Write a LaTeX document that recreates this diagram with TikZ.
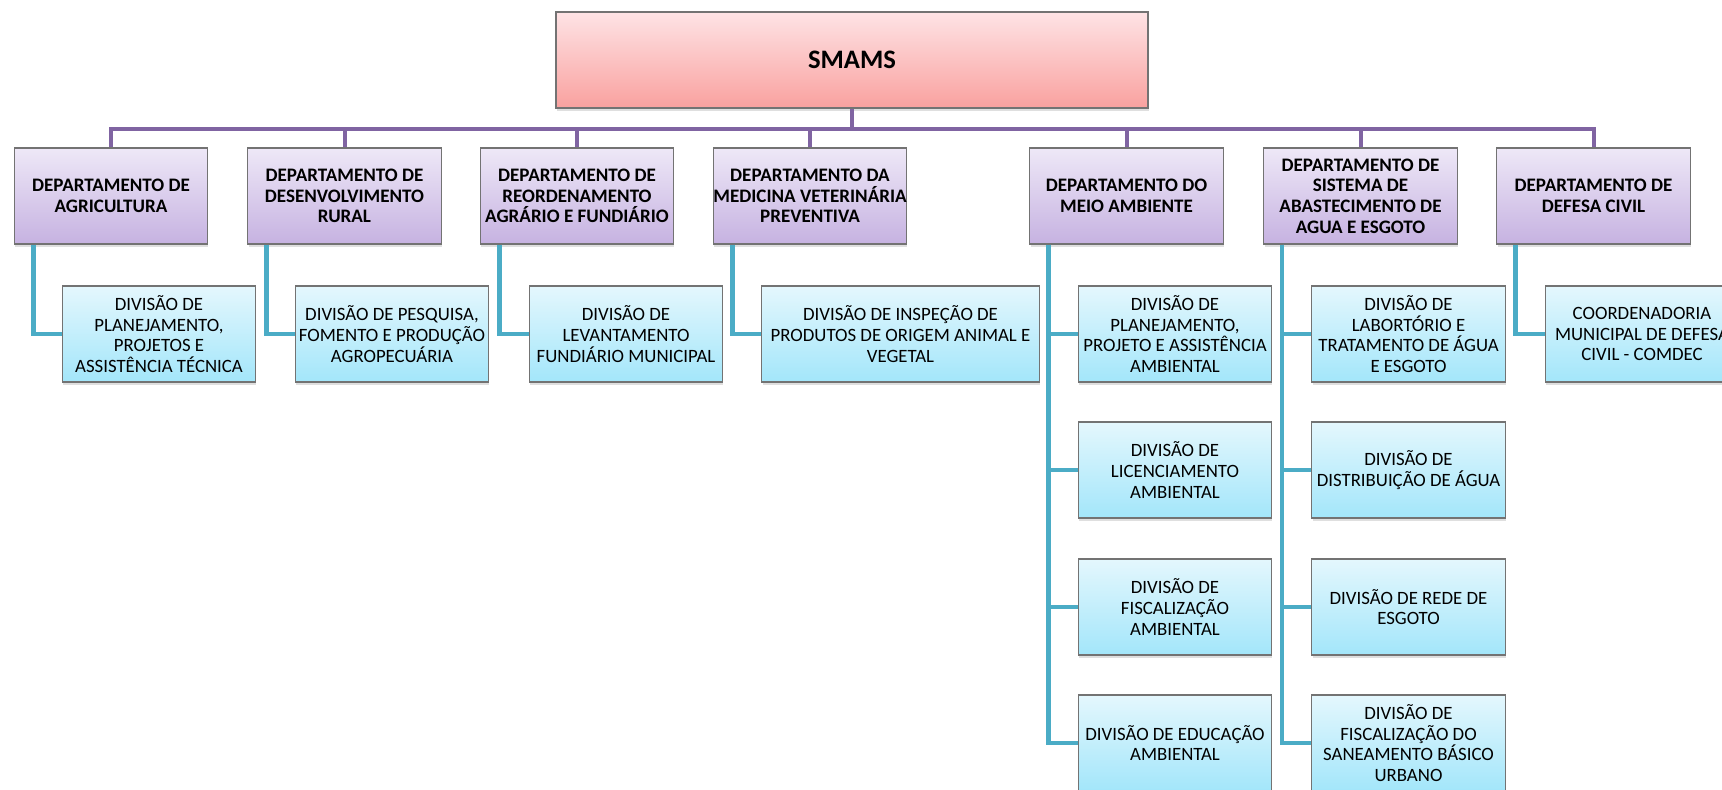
\documentclass[tikz,border=0pt]{standalone}
\usepackage{fontspec}
\setmainfont{Carlito}
\usetikzlibrary{shadows}

\definecolor{smamstop}{HTML}{FEE3E5}
\definecolor{smamsbot}{HTML}{F9A19F}
\definecolor{deptop}{HTML}{EEE8F7}
\definecolor{depbot}{HTML}{C6B2E1}
\definecolor{divtop}{HTML}{E4F7FD}
\definecolor{divbot}{HTML}{A3E6FA}
\definecolor{buscol}{HTML}{8064A2}
\definecolor{linkcol}{HTML}{4BACC6}

\begin{document}
\begin{tikzpicture}[x=0.75pt, y=-0.75pt]
    \tikzstyle{box}=[draw=black!55, line width=0.8pt, align=center, inner xsep=0pt, inner ysep=2pt,
        drop shadow={shadow xshift=0.6pt, shadow yshift=-2.4pt, opacity=0.25},
        font=\fontsize{14.1}{15.5}\selectfont]
    \tikzstyle{head}=[box, top color=smamstop, bottom color=smamsbot,
        minimum width=444pt, minimum height=72pt, font=\fontsize{20}{24}\selectfont\bfseries]
    \tikzstyle{dep}=[box, top color=deptop, bottom color=depbot,
        minimum width=145pt, minimum height=72pt, font=\fontsize{14.3}{15.5}\selectfont\bfseries]
    \tikzstyle{div}=[box, top color=divtop, bottom color=divbot,
        minimum width=145pt, minimum height=72pt]
    \tikzstyle{bus}=[draw=buscol, line width=3pt]
    \tikzstyle{link}=[draw=linkcol, line width=3.6pt]

    \clip (0,0) rectangle (1722,789);

    \node[head](smams) at (852, 60) {SMAMS};

    \node[dep](dep_1) at (111, 196) {DEPARTAMENTO DE\\AGRICULTURA};
    \node[dep](dep_2) at (344.5, 196) {DEPARTAMENTO DE\\DESENVOLVIMENTO\\RURAL};
    \node[dep](dep_3) at (577, 196) {DEPARTAMENTO DE\\REORDENAMENTO\\AGRÁRIO E FUNDIÁRIO};
    \node[dep](dep_4) at (810, 196) {DEPARTAMENTO DA\\MEDICINA VETERINÁRIA\\PREVENTIVA};
    \node[dep](dep_5) at (1126.5, 196) {DEPARTAMENTO DO\\MEIO AMBIENTE};
    \node[dep](dep_6) at (1360.5, 196) {DEPARTAMENTO DE\\SISTEMA DE\\ABASTECIMENTO DE\\AGUA E ESGOTO};
    \node[dep](dep_7) at (1593.5, 196) {DEPARTAMENTO DE\\DEFESA CIVIL};

    \node[div](div_1) at (159, 334) {DIVISÃO DE\\PLANEJAMENTO,\\PROJETOS E\\ASSISTÊNCIA TÉCNICA};
    \node[div](div_2) at (392, 334) {DIVISÃO DE PESQUISA,\\FOMENTO E PRODUÇÃO\\AGROPECUÁRIA};
    \node[div](div_3) at (626, 334) {DIVISÃO DE\\LEVANTAMENTO\\FUNDIÁRIO MUNICIPAL};
    \node[div, minimum width=208pt](div_4) at (900.5, 334) {DIVISÃO DE INSPEÇÃO DE\\PRODUTOS DE ORIGEM ANIMAL E\\VEGETAL};

    \node[div](div_5_1) at (1175, 334) {DIVISÃO DE\\PLANEJAMENTO,\\PROJETO E ASSISTÊNCIA\\AMBIENTAL};
    \node[div](div_5_2) at (1175, 470) {DIVISÃO DE\\LICENCIAMENTO\\AMBIENTAL};
    \node[div](div_5_3) at (1175, 607) {DIVISÃO DE\\FISCALIZAÇÃO\\AMBIENTAL};
    \node[div](div_5_4) at (1175, 743) {DIVISÃO DE EDUCAÇÃO\\AMBIENTAL};

    \node[div](div_6_1) at (1408.5, 334) {DIVISÃO DE\\LABORTÓRIO E\\TRATAMENTO DE ÁGUA\\E ESGOTO};
    \node[div](div_6_2) at (1408.5, 470) {DIVISÃO DE\\DISTRIBUIÇÃO DE ÁGUA};
    \node[div](div_6_3) at (1408.5, 607) {DIVISÃO DE REDE DE\\ESGOTO};
    \node[div](div_6_4) at (1408.5, 743) {DIVISÃO DE\\FISCALIZAÇÃO DO\\SANEAMENTO BÁSICO\\URBANO};

    \node[div](div_7) at (1642, 334) {COORDENADORIA\\MUNICIPAL DE DEFESA\\CIVIL - COMDEC};

    % barra superior
    \coordinate(bus) at (852, 129);
    \draw[bus] (smams.south) -- (smams.south |- bus);
    \draw[bus] (dep_1.north) -- (dep_1.north |- bus) -- (dep_7.north |- bus) -- (dep_7.north);
    \foreach \i in {2,...,6}
        \draw[bus] (dep_\i.north) -- (dep_\i.north |- bus);

    % ligacoes das divisoes
    \draw[link] ([xshift=14.6pt]dep_1.south west) |- (div_1.west);
    \draw[link] ([xshift=14.6pt]dep_2.south west) |- (div_2.west);
    \draw[link] ([xshift=14.6pt]dep_3.south west) |- (div_3.west);
    \draw[link] ([xshift=14.6pt]dep_4.south west) |- (div_4.west);
    \foreach \j in {1,...,4} {
        \draw[link] ([xshift=14.6pt]dep_5.south west) |- (div_5_\j.west);
        \draw[link] ([xshift=14pt]dep_6.south west) |- (div_6_\j.west);
    }
    \draw[link] ([xshift=14.6pt]dep_7.south west) |- (div_7.west);

\end{tikzpicture}
\end{document}
